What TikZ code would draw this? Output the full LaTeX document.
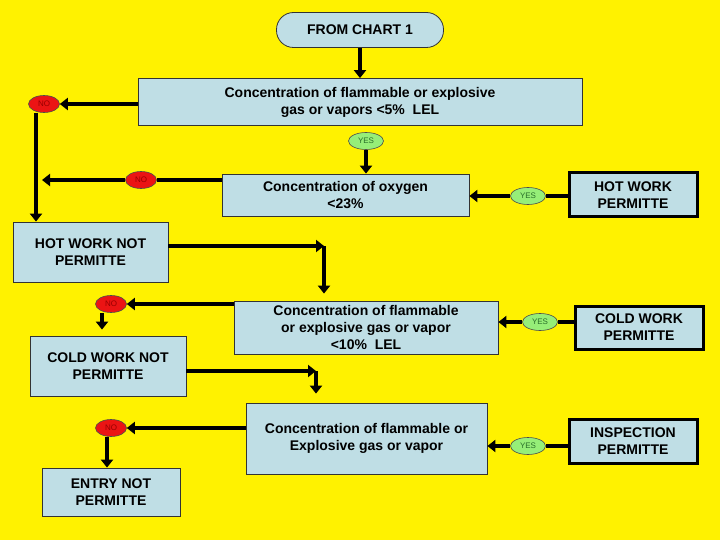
\documentclass[tikz,border=0pt]{standalone}
\usepackage{fontspec}
\setmainfont{Liberation Sans}
\usetikzlibrary{arrows.meta,shapes.geometric,calc}

\definecolor{boxblue}{RGB}{191,222,229}
\definecolor{nored}{RGB}{235,20,20}
\definecolor{notext}{RGB}{150,0,0}
\definecolor{yesgreen}{RGB}{150,238,120}
\definecolor{yestext}{RGB}{40,110,40}

\begin{document}
\begin{tikzpicture}[x=1pt,y=-1pt,>={Triangle[length=8pt,width=12pt]},line width=3.8pt]
    \tikzstyle{box}=[rectangle, draw=black!80, line width=0.8pt, fill=boxblue, align=center,
        inner sep=2pt, font=\fontsize{14}{17}\selectfont\bfseries]
    \tikzstyle{permit}=[box, draw=black, line width=3pt]
    \tikzstyle{no}=[ellipse, draw=black!70, line width=0.6pt, fill=nored, minimum width=31pt,
        minimum height=17pt, inner sep=0pt, text=notext, font=\fontsize{8}{9}\selectfont]
    \tikzstyle{yes}=[no, fill=yesgreen, text=yestext, minimum width=35pt]

    % background and page size
    \fill[yellow] (0,0) rectangle (720,540);

    \node[box, rounded corners=17pt, minimum width=167pt, minimum height=35pt] (start) at (360,30) {FROM CHART 1};

    \node[box, minimum width=444pt, minimum height=47pt] (c1) at (360,102)
        {Concentration of flammable or explosive\\gas or vapors <5\%~~LEL};
    \node[box, minimum width=247pt, minimum height=42pt] (c2) at (345.5,195)
        {Concentration of oxygen\\<23\%};
    \node[box, minimum width=264pt, minimum height=53pt] (c3) at (366,327.5)
        {Concentration of flammable\\or explosive gas or vapor\\<10\%~~LEL};
    \node[box, minimum width=241pt, minimum height=71pt] (c4) at (366.5,438.5)
        {Concentration of flammable or\\Explosive gas or vapor};

    \node[permit, minimum width=128pt, minimum height=44pt] (hot) at (633,195) {HOT WORK\\PERMITTE};
    \node[permit, minimum width=128pt, minimum height=43pt] (cold) at (639,327.5) {COLD WORK\\PERMITTE};
    \node[permit, minimum width=128pt, minimum height=44pt] (insp) at (633,441) {INSPECTION\\PERMITTE};

    \node[box, minimum width=155pt, minimum height=60pt] (hotno) at (90.5,252) {HOT WORK NOT\\PERMITTE};
    \node[box, minimum width=156pt, minimum height=60pt] (coldno) at (108,366) {COLD WORK NOT\\PERMITTE};
    \node[box, minimum width=138pt, minimum height=48pt] (entryno) at (111,492) {ENTRY NOT\\PERMITTE};

    \node[no] (no1) at (44,104) {NO};
    \node[no] (no2) at (141,180) {NO};
    \node[no] (no3) at (111,304) {NO};
    \node[no] (no4) at (111,428) {NO};

    \node[yes] (yes1) at (366,141) {YES};
    \node[yes] (yes2) at (528,196) {YES};
    \node[yes] (yes3) at (540,322) {YES};
    \node[yes] (yes4) at (528,446) {YES};

    \coordinate (k1) at (324,246);
    \coordinate (k2) at (316,371);
    \coordinate (n2end) at (42,180);

    % first check
    \draw[->] (start) -- (c1);
    \draw[->] (c1.west |- no1) -- (no1.east);
    \draw[->] ([xshift=-8pt]no1.south) -- ([xshift=-8pt]no1.south |- hotno.north);
    \draw[->] (yes1) -- (yes1 |- c2.north);

    % oxygen
    \draw (no2 -| c2.west) -- (no2.east);
    \draw[->] (no2.west) -- (n2end);
    \draw (hot.west |- yes2) -- (yes2.east);
    \draw[->] (yes2.west) -- (yes2 -| c2.east);
    \draw[->] (hotno.east |- k1) -- (k1);
    \draw[->, shorten >=7pt] (k1) -- (k1 |- c3.north);

    % below 10% LEL
    \draw[->] (c3.west |- no3) -- (no3.east);
    \draw[->, shorten >=6pt] ([xshift=-9pt]no3.south) -- ([xshift=-9pt]no3.south |- coldno.north);
    \draw (cold.west |- yes3) -- (yes3.east);
    \draw[->] (yes3.west) -- (yes3 -| c3.east);
    \draw[->] (coldno.east |- k2) -- (k2);
    \draw[->, shorten >=9pt] (k2) -- (k2 |- c4.north);

    % last check
    \draw[->] (c4.west |- no4) -- (no4.east);
    \draw[->] ([xshift=-4pt]no4.south) -- ([xshift=-4pt]no4.south |- entryno.north);
    \draw (insp.west |- yes4) -- (yes4.east);
    \draw[->] (yes4.west) -- (yes4 -| c4.east);
\end{tikzpicture}
\end{document}
